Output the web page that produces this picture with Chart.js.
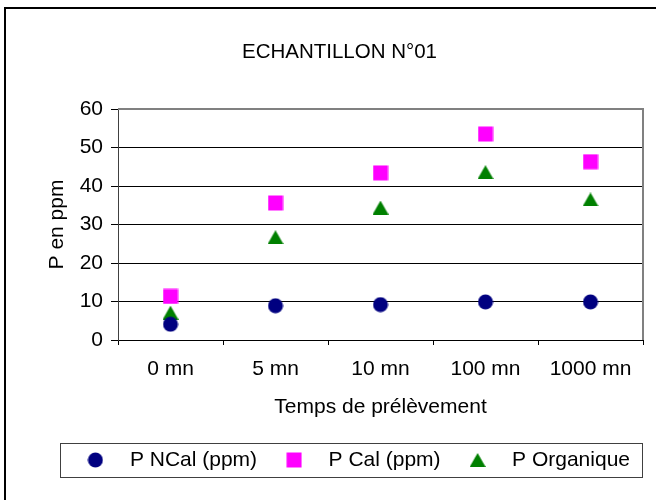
<!DOCTYPE html>
<html>
<head>
<meta charset="utf-8">
<script src="https://cdn.jsdelivr.net/npm/chart.js@4/dist/chart.umd.min.js"></script>
<style>
  html, body { margin: 0; padding: 0; background: #fff; }
  #wrap { width: 656px; height: 500px; }
</style>
</head>
<body>
<div id="wrap"><canvas id="chart" width="656" height="500"></canvas></div>
<script>
// data
const categories = ['0 mn', '5 mn', '10 mn', '100 mn', '1000 mn'];
const pNCal = [4.1, 8.9, 9.2, 9.9, 9.9];
const pCal = [11.3, 35.6, 43.4, 53.5, 46.3];
const pOrganique = [7.1, 26.7, 34.4, 43.6, 36.5];
const yTicks = [0, 10, 20, 30, 40, 50, 60];

const FONT = "'Liberation Sans', Arial, sans-serif";

// Excel-like markers, drawn once and used for points and legend
function marker(kind, color) {
  const c = document.createElement('canvas');
  c.width = 16;
  c.height = kind === 'triangle' ? 14 : 16;
  const g = c.getContext('2d');
  g.fillStyle = color;
  g.beginPath();
  if (kind === 'circle') {
    g.arc(8, 8, 7.5, 0, Math.PI * 2);
  } else if (kind === 'square') {
    g.rect(0.5, 0.5, 15, 15);
  } else {
    g.moveTo(8, 0);
    g.lineTo(16, 14);
    g.lineTo(0, 14);
    g.closePath();
  }
  g.fill();
  return c;
}

const frame = {
  id: 'frame',
  afterLayout(chart) {
    // the Excel title sits a little right of the canvas centre
    if (chart.titleBlock) {
      chart.titleBlock.left += 28;
    }
  },
  beforeDraw(chart) {
    const ctx = chart.ctx;
    ctx.save();
    ctx.fillStyle = '#fff';
    ctx.fillRect(0, 0, chart.width, chart.height);
    ctx.strokeStyle = '#000';
    ctx.lineWidth = 2;
    ctx.strokeRect(5, 8, chart.width + 20, chart.height + 20);
    ctx.restore();
  },
  beforeDatasetsDraw(chart) {
    const {ctx, chartArea: a} = chart;
    ctx.save();
    ctx.strokeStyle = '#808080';
    ctx.lineWidth = 2;
    ctx.beginPath();
    ctx.moveTo(a.left, a.top);
    ctx.lineTo(a.right, a.top);
    ctx.lineTo(a.right, a.bottom);
    ctx.stroke();
    ctx.restore();
  },
  afterDraw(chart) {
    const boxes = chart.legend.legendHitBoxes;
    if (!boxes || !boxes.length) return;
    const left = Math.min(...boxes.map(b => b.left)) - 11;
    const right = Math.max(...boxes.map(b => b.left + b.width)) + 12;
    const cy = boxes[0].top + boxes[0].height / 2;
    const ctx = chart.ctx;
    ctx.save();
    ctx.strokeStyle = '#404040';
    ctx.lineWidth = 1;
    ctx.strokeRect(Math.round(left) + 0.5, Math.round(cy - 17) + 0.5, Math.round(right - left), 34);
    ctx.restore();
  }
};

new Chart(document.getElementById('chart'), {
  type: 'line',
  data: {
    labels: categories,
    datasets: [
      { label: 'P NCal (ppm)', data: pNCal, pointStyle: marker('circle', '#000080'), borderColor: '#000080', backgroundColor: '#000080' },
      { label: 'P Cal (ppm)', data: pCal, pointStyle: marker('square', '#FF00FF'), borderColor: '#FF00FF', backgroundColor: '#FF00FF' },
      { label: 'P Organique', data: pOrganique, pointStyle: marker('triangle', '#008000'), borderColor: '#008000', backgroundColor: '#008000' }
    ]
  },
  plugins: [frame],
  options: {
    responsive: false,
    animation: false,
    showLine: false,
    layout: { padding: { top: 8, left: 8, right: 13, bottom: 19.5 } },
    plugins: {
      title: {
        display: true,
        text: 'ECHANTILLON N°01',
        color: '#000',
        font: { family: FONT, size: 20.5, weight: 'normal' },
        padding: { top: 31.7, bottom: 44.7 }
      },
      legend: {
        position: 'bottom',
        align: 'end',
        labels: {
          usePointStyle: true,
          pointStyleWidth: 48,
          padding: 13,
          color: '#000',
          font: { family: FONT, size: 21 }
        }
      },
      tooltip: { enabled: false }
    },
    scales: {
      x: {
        type: 'category',
        offset: true,
        grid: { offset: true, drawOnChartArea: false, color: '#000', tickLength: 5 },
        border: { color: '#000', width: 1 },
        ticks: { color: '#000', padding: 12, font: { family: FONT, size: 21 } },
        title: {
          display: true,
          text: 'Temps de prélèvement',
          color: '#000',
          font: { family: FONT, size: 21 },
          padding: { top: 10, bottom: 17 }
        },
        afterFit(scale) { scale.height = 96.5; }
      },
      y: {
        min: yTicks[0],
        max: yTicks[yTicks.length - 1],
        afterBuildTicks(scale) { scale.ticks = yTicks.map(v => ({ value: v })); },
        grid: { color: '#000', lineWidth: 1, tickLength: 7 },
        border: { color: '#404040', width: 1 },
        ticks: { color: '#000', padding: 8, font: { family: FONT, size: 21 } },
        title: {
          display: true,
          text: 'P en ppm',
          color: '#000',
          font: { family: FONT, size: 21 },
          padding: { top: 36.4, bottom: 0 }
        },
        afterFit(scale) { scale.width = 110; }
      }
    }
  }
});
</script>
</body>
</html>
